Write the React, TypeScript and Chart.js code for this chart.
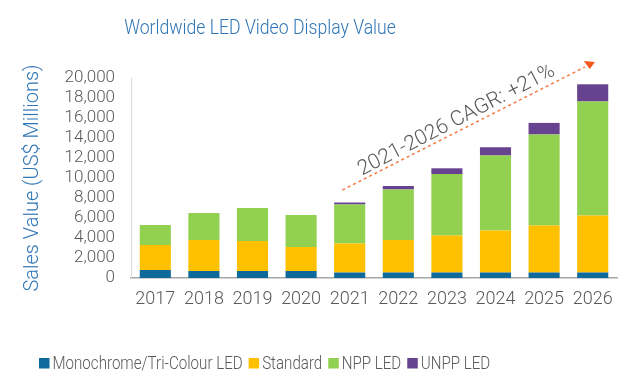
import React, { useEffect, useRef } from "react";
import { Chart, registerables } from "chart.js";

Chart.register(...registerables);

const chartTitle = "Worldwide LED Video Display Value";
const yAxisTitle = "Sales Value (US$ Millions)";
const years = ["2017", "2018", "2019", "2020", "2021", "2022", "2023", "2024", "2025", "2026"];
const monochrome = [800, 700, 700, 700, 550, 550, 550, 550, 550, 550];
const standard = [2500, 3100, 3000, 2400, 2900, 3250, 3700, 4200, 4700, 5700];
const nppLed = [2000, 2700, 3300, 3200, 3900, 5050, 6150, 7500, 9100, 11400];
const unppLed = [0, 0, 0, 0, 200, 350, 570, 820, 1160, 1720];
const seriesNames = ["Monochrome/Tri-Colour LED", "Standard", "NPP LED", "UNPP LED"];
const seriesColors = ["#0f6a9c", "#ffc000", "#92d050", "#67438f"];
const yMin = 0;
const yMax = 20000;
const yStep = 2000;
const cagrLabel = "2021-2026 CAGR: +21%";
// annotation arrow: [category index, value] at start and end, label anchor
const cagrStart = [3.85, 8800];
const cagrEnd = [8.9, 21300];
const cagrText = [6.2, 15750];

const FONT = "Roboto";
const GRAY = "#595959";
const BLUE = "#2e75b6";
const NARROW = 0.84;

const titlePlugin = {
  id: "customTitle",
  afterDraw(chart: any) {
    const ctx = chart.ctx;
    ctx.save();
    ctx.font = `300 21px ${FONT}`;
    ctx.fillStyle = BLUE;
    ctx.textAlign = "center";
    ctx.textBaseline = "alphabetic";
    ctx.translate(260, 34);
    ctx.scale(NARROW, 1);
    ctx.fillText(chartTitle, 0, 0);
    ctx.restore();
  },
};

const legendPlugin = {
  id: "customLegend",
  afterDraw(chart: any) {
    const ctx = chart.ctx;
    ctx.save();
    ctx.font = `300 18px ${FONT}`;
    ctx.textBaseline = "alphabetic";
    ctx.textAlign = "left";
    let x = 39;
    const baseY = 369;
    chart.data.datasets.forEach((ds: any) => {
      ctx.fillStyle = ds.backgroundColor;
      ctx.fillRect(x, 358, 10.5, 10.5);
      ctx.fillStyle = GRAY;
      const tx = x + 13.5;
      ctx.save();
      ctx.translate(tx, baseY);
      ctx.scale(NARROW, 1);
      ctx.fillText(ds.label, 0, 0);
      ctx.restore();
      x = tx + ctx.measureText(ds.label).width * NARROW + 6;
    });
    ctx.restore();
  },
};

const cagrPlugin = {
  id: "cagrArrow",
  afterDraw(chart: any) {
    const { ctx } = chart;
    const xs = chart.scales.x;
    const ys = chart.scales.y;
    const sx = xs.getPixelForValue(cagrStart[0]);
    const sy = ys.getPixelForValue(cagrStart[1]);
    const ex = xs.getPixelForValue(cagrEnd[0]);
    const ey = ys.getPixelForValue(cagrEnd[1]);
    ctx.save();
    ctx.strokeStyle = "#f47a46";
    ctx.lineWidth = 1.5;
    ctx.setLineDash([3, 3]);
    ctx.beginPath();
    ctx.moveTo(sx, sy);
    ctx.lineTo(ex - 3, ey + 2);
    ctx.stroke();
    ctx.setLineDash([]);
    ctx.fillStyle = "#f4581c";
    ctx.beginPath();
    ctx.moveTo(ex - 4, ey - 4);
    ctx.lineTo(ex + 7, ey - 3);
    ctx.lineTo(ex + 2, ey + 4);
    ctx.closePath();
    ctx.fill();
    const tx = xs.getPixelForValue(cagrText[0]);
    const ty = ys.getPixelForValue(cagrText[1]);
    ctx.translate(tx, ty);
    ctx.rotate((-27.5 * Math.PI) / 180);
    ctx.font = `300 21px ${FONT}`;
    ctx.fillStyle = GRAY;
    ctx.textAlign = "center";
    ctx.textBaseline = "middle";
    ctx.fillText(cagrLabel, 0, 0);
    ctx.restore();
  },
};

export default function App() {
  const canvasRef = useRef<HTMLCanvasElement | null>(null);

  useEffect(() => {
    if (!canvasRef.current) return;
    const seriesData = [monochrome, standard, nppLed, unppLed];
    const chart = new Chart(canvasRef.current, {
      type: "bar",
      data: {
        labels: years,
        datasets: seriesNames.map((name, i) => ({
          label: name,
          data: seriesData[i],
          backgroundColor: seriesColors[i],
          borderWidth: 0,
          barPercentage: 0.64,
          categoryPercentage: 1,
        })),
      },
      options: {
        responsive: false,
        animation: false,
        events: [],
        layout: { padding: { top: 78, right: 14, bottom: 59, left: 0 } },
        plugins: {
          legend: { display: false },
          title: { display: false },
          tooltip: { enabled: false },
        },
        scales: {
          x: {
            stacked: true,
            grid: { display: false, drawTicks: false },
            border: { display: true, color: "#a6a6a6", width: 1.5 },
            ticks: {
              color: GRAY,
              font: { family: FONT, size: 18, weight: "300" },
              padding: 11,
              maxRotation: 0,
              autoSkip: false,
            },
            afterFit(scale: any) {
              scale.height = 40;
            },
          },
          y: {
            stacked: true,
            min: yMin,
            max: yMax,
            grid: { display: false, drawTicks: false },
            border: { display: true, color: "#d9d9d9", width: 1 },
            ticks: {
              stepSize: yStep,
              autoSkip: false,
              color: GRAY,
              font: { family: FONT, size: 17, weight: "300" },
              padding: 16,
              callback: (v: any) => Number(v).toLocaleString("en-US"),
            },
            title: {
              display: true,
              text: yAxisTitle,
              color: BLUE,
              font: { family: FONT, size: 20, weight: "300" },
              padding: { top: 21, bottom: 0 },
            },
            afterFit(scale: any) {
              scale.width = 131;
            },
          },
        },
      },
      plugins: [titlePlugin, legendPlugin, cagrPlugin],
    });
    return () => chart.destroy();
  }, []);

  return (
    <div style={{ position: "fixed", left: 0, top: 0, width: 631, height: 377, background: "#fff" }}>
      <canvas ref={canvasRef} width={631} height={377} style={{ display: "block" }} />
    </div>
  );
}
